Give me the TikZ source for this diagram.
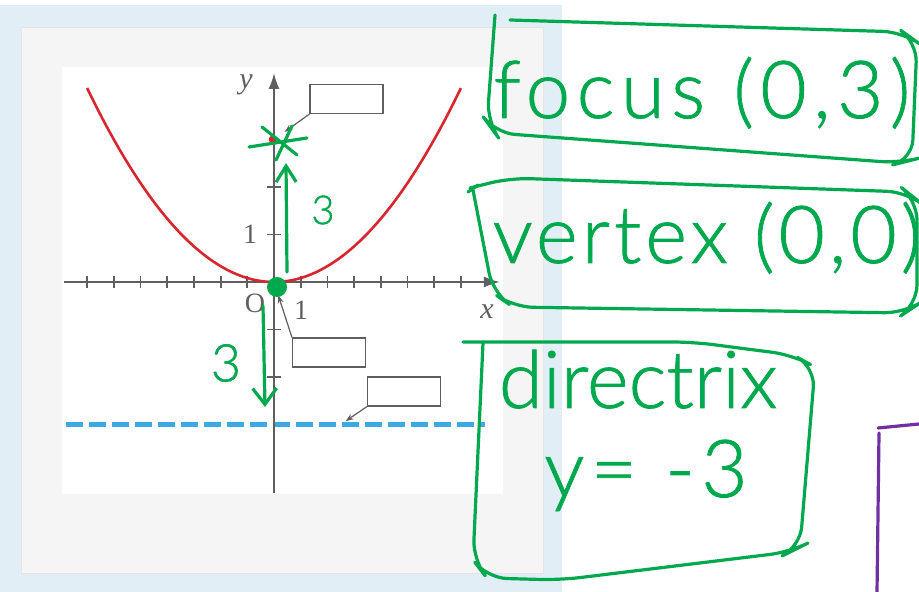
\documentclass[tikz,border=0pt]{standalone}
\usepackage{fontspec}
\usetikzlibrary{arrows.meta}
\newfontfamily\hand{Lato Light}[FakeBold=1]
\newfontfamily\bookfont{Liberation Serif}
\definecolor{panelblue}{RGB}{226,238,246}
\definecolor{panelgray}{RGB}{245,245,245}
\definecolor{axisgray}{RGB}{95,95,95}
\definecolor{parabred}{RGB}{215,38,46}
\definecolor{dirblue}{RGB}{60,168,228}
\definecolor{inkgreen}{RGB}{0,168,78}
\definecolor{inkpurple}{RGB}{112,48,160}
\tikzset{
  ink/.style={inkgreen, line width=1.6pt, line cap=round, line join=round},
  lblbox/.style={draw=axisgray, line width=0.6pt, fill=white, minimum width=36.5pt, minimum height=14.5pt, inner sep=0pt},
  leader/.style={axisgray, line width=0.6pt, -{Stealth[length=4pt,width=3pt]}},
  axlabel/.style={axisgray, font=\bookfont\fontsize{14}{14}\selectfont},
  hw/.style={inkgreen, anchor=base, font=\hand\fontsize{40}{44}\selectfont},
}

\begin{document}
\begin{tikzpicture}[x=0.5pt,y=-0.5pt]
\useasboundingbox (0,0) rectangle (919,592);
% panels behind the graph
\fill[white] (0,0) rectangle (919,592);
\fill[panelblue] (0,5) rectangle (562,592);
\filldraw[fill=panelgray, draw=black!10] (21,27) rectangle (543,573);
\fill[white] (62,67) rectangle (503,494);

% graph, in axis units
\begin{scope}[shift={(274,282)}, x=13.35pt, y=23.75pt]
  \draw[dirblue, line width=2.4pt, dash pattern=on 8.5pt off 3pt] (-7.8,-3) -- (7.9,-3);
  \draw[axisgray, line width=0.9pt, -{Latex[length=8pt,width=5.5pt]}] (-7.87,0) -- (8.46,0);
  \draw[axisgray, line width=0.9pt, -{Latex[length=8pt,width=5.5pt]}] (0,-4.44) -- (0,4.4);
  \foreach \x in {-7,...,-1,1,2,...,7}
    \draw[axisgray, line width=0.9pt] (\x,-0.13) -- (\x,0.13);
  \foreach \y in {-2,-1,1,2}
    \draw[axisgray, line width=0.9pt] (-0.27,\y) -- (0.27,\y);
  \draw[parabred, line width=1.3pt] plot[domain=-7:7, samples=60, smooth] (\x,{\x*\x/12});
  \fill[parabred] (-0.05,3) circle (2pt);
  \coordinate (F) at (0,3);
  \coordinate (V) at (0,0);
  \coordinate (D) at (2.5,-3);
\end{scope}

% axis labels
\node[axlabel, font=\bookfont\itshape\fontsize{15}{15}\selectfont] (ylab) at (246,85) {y};
\node[axlabel, font=\bookfont\itshape\fontsize{15}{15}\selectfont] (xlab) at (487,312) {x};
\node[axlabel] (olab) at (255,303) {O};
\node[axlabel] (xone) at (301,310) {1};
\node[axlabel] (yone) at (250,234) {1};

% empty label boxes
\node[lblbox] (flbl) at (346.5,99) {};
\node[lblbox] (vlbl) at (329,352.5) {};
\node[lblbox] (dlbl) at (404,391.5) {};
\draw[leader, shorten >=6.5pt] (flbl.south west) -- (F);
\draw[leader, shorten >=7pt] (vlbl.north west) -- (V);
\draw[leader, shorten >=3pt] (dlbl.south west) -- (D);

% green ink on the graph
\draw[ink] (249,147) -- (307,138);
\draw[ink] (262,127) -- (297,155);
\draw[ink] (276,160) -- (292,126);
\fill[inkgreen] (277,287) circle (10);
\coordinate (upfoot) at (287,272);
\coordinate (uptip) at (286,163);
\coordinate (downfoot) at (263,306);
\coordinate (downtip) at (265,407);
\draw[ink, -{Straight Barb[length=8pt,width=10pt]}] (upfoot) -- (uptip);
\draw[ink, -{Straight Barb[length=8pt,width=12pt]}] (downfoot) -- (downtip);
\node[inkgreen, font=\hand\fontsize{20}{20}\selectfont] (upthree) at (323,210) {3};
\node[inkgreen, font=\hand\fontsize{26}{26}\selectfont] (downthree) at (226,363) {3};

% green boxes with notes
\draw[ink, rounded corners=10pt] (510,20) -- (903,32) -- (917,42) -- (912,160) -- (900,163) -- (495,133) -- (487,122) -- (495,15);
\node[hw, font=\hand\fontsize{40}{44}\selectfont\addfontfeatures{LetterSpace=8}] (focustxt) at (702,118) {focus (0,3)};
\draw[ink] (468,192) -- (478,185);
\draw[ink, rounded corners=10pt] (470,188) -- (510,178) -- (907,192) -- (917,200) -- (917,305) -- (905,313) -- (513,307) -- (493,293) -- (473,190);
\node[hw, font=\hand\fontsize{40}{44}\selectfont\addfontfeatures{LetterSpace=5}] (vertextxt) at (707,263) {vertex (0,0)};
\draw[ink, rounded corners=10pt] (463,342) -- (693,342) -- (793,355) -- (815,367) -- (800,547) -- (790,552) -- (560,580) -- (487,578) -- (473,560) -- (483,343);
\node[hw] (dirtxt) at (638,408) {directrix};
\node[hw, font=\hand\fontsize{40}{44}\selectfont\addfontfeatures{LetterSpace=8}] (direq) at (646,497) {y= -3};

% purple box corner
\draw[inkpurple, line width=1.6pt, line cap=round] (878,428) -- (919,424);
\draw[inkpurple, line width=1.6pt, line cap=round] (879,433) -- (877,592);
\end{tikzpicture}
\end{document}
